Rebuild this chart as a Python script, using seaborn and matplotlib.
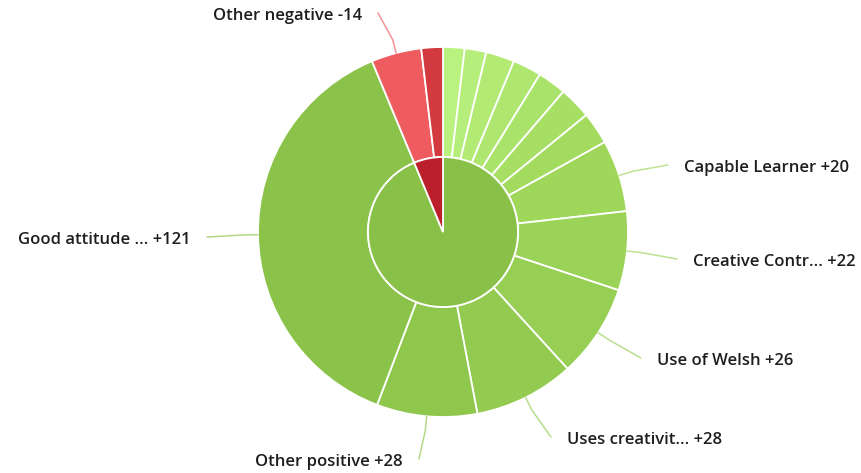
import numpy as np
import matplotlib
matplotlib.use("Agg")
import matplotlib.pyplot as plt
import seaborn as sns

# outer ring, clockwise from 12 o'clock (positive first, then negative)
pos_names = ["", "", "", "", "", "", "",
             "Capable Learner", "Creative Contr...", "Use of Welsh",
             "Uses creativit...", "Other positive", "Good attitude ..."]
pos_values = [6, 6, 8, 8, 8, 9, 9, 20, 22, 26, 28, 28, 121]
neg_names = ["Other negative", ""]
neg_values = [14, 6]

# where the labels sit (pixel coords of the 861x473 image, y down)
label_pos = {
    "Capable Learner": (684, 168, "left"),
    "Creative Contr...": (693, 262, "left"),
    "Use of Welsh": (657, 361, "left"),
    "Uses creativit...": (567, 440, "left"),
    "Other positive": (403, 462, "right"),
    "Good attitude ...": (191, 240, "right"),
    "Other negative": (362, 16, "right"),
}

sns.set_theme(style="white")
plt.rcParams["font.family"] = ["Open Sans", "DejaVu Sans"]

W, H = 861, 473
fig = plt.figure(figsize=(W / 100, H / 100), dpi=100)
ax = fig.add_axes([0, 0, 1, 1])

cx, cy = 443, H - 232
r_out, r_in = 185, 75

green_ramp = sns.blend_palette(["#b9f27f", "#a3db5f", "#8bc34a"], len(pos_values))
outer_colors = list(green_ramp) + ["#ee5c60", "#d23a40"]
outer_values = pos_values + neg_values
outer_names = pos_names + neg_names
outer_signs = ["+"] * len(pos_values) + ["-"] * len(neg_values)

wedges, _ = ax.pie(outer_values, radius=r_out, center=(cx, cy), startangle=90,
                   counterclock=False, colors=outer_colors,
                   wedgeprops=dict(width=r_out - r_in, edgecolor="white", linewidth=1.3))

ax.pie([sum(pos_values), sum(neg_values)], radius=r_in, center=(cx, cy),
       startangle=90, counterclock=False, colors=["#89c148", "#bb1f2b"],
       wedgeprops=dict(edgecolor="white", linewidth=1.3))

# leader lines + labels
for w, name, val, sign, col in zip(wedges, outer_names, outer_values, outer_signs, outer_colors):
    if not name:
        continue
    mid = np.deg2rad((w.theta1 + w.theta2) / 2)
    p0 = (cx + r_out * np.cos(mid), cy + r_out * np.sin(mid))
    p1 = (cx + (r_out + 14) * np.cos(mid), cy + (r_out + 14) * np.sin(mid))
    tx, ty, ha = label_pos[name]
    ty = H - ty
    ex = tx - 16 if ha == "left" else tx + 16
    line_col = sns.blend_palette([col, "white"], 4)[1]
    ax.plot([p0[0], p1[0], ex], [p0[1], p1[1], ty + 3], color=line_col, lw=1.1,
            solid_capstyle="round")
    ax.text(tx, ty, f"{name} {sign}{val}", ha=ha, va="center", fontsize=12,
            fontweight="semibold", color="#1e1e1e")

ax.set_xlim(0, W)
ax.set_ylim(0, H)
ax.set_aspect("equal")
ax.axis("off")

fig.savefig("out.png", dpi=100, facecolor="white")
